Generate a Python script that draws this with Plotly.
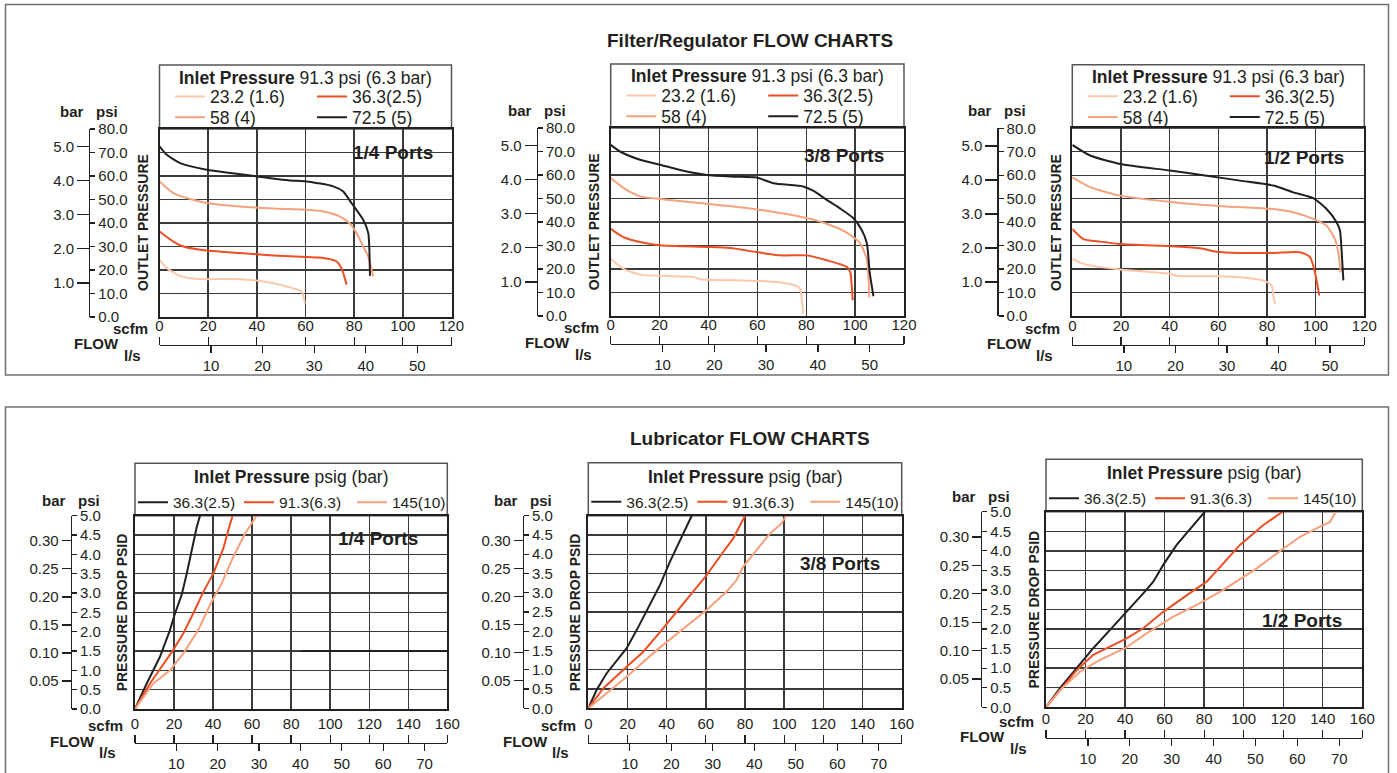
import plotly.graph_objects as go

W, H = 1397, 773
def px(x): return x / W
def py(y): return 1 - y / H

FONT = "Liberation Sans, Arial, Helvetica, sans-serif"
INK = "#231f20"
GRID = "#3a3a3a"
BOXC = "#707070"

# ---------------- DATA ----------------
FR_NAMES = ["23.2 (1.6)", "36.3(2.5)", "58 (4)", "72.5 (5)"]
FR_COLORS = ["#fcc8ac", "#ec4f25", "#f5a27e", "#231f20"]
LUB_NAMES = ["36.3(2.5)", "91.3(6.3)", "145(10)"]
LUB_COLORS = ["#231f20", "#ec4f25", "#f6a07c"]

# Filter/Regulator 1/4 Ports (scfm, psi)
fr14_232_x = [0, 3, 8.5, 12.6, 19.4, 33, 46.8, 55, 58.4, 59.8]
fr14_232_y = [24.3, 20.8, 17.5, 16.5, 16.1, 16.1, 14.4, 12.2, 10.8, 5.8]
fr14_363_x = [0, 5.7, 9.8, 19.4, 33, 46.8, 60.5, 66, 72.8, 74.8, 76.9]
fr14_363_y = [36.4, 32.1, 30, 28.3, 27.2, 26.2, 25.5, 25.3, 23.6, 20.8, 13.7]
fr14_58_x = [0, 5.7, 12.6, 19.4, 33, 46.8, 60.5, 67.3, 74, 78, 81, 83.7, 85.8, 87.8]
fr14_58_y = [57.7, 52.7, 50.2, 48.5, 47, 46.2, 45.6, 44.9, 42.8, 40, 35.7, 30, 25.7, 17.2]
fr14_725_x = [0, 3, 8.5, 19.4, 30, 40, 53.6, 60.5, 71.4, 75.5, 78.9, 83.7, 85.8, 86.2, 86.5]
fr14_725_y = [72.6, 69, 65.5, 62.7, 61.2, 59.8, 58.1, 57.7, 55.6, 53.4, 48.5, 41.4, 35.7, 30, 17.5]

# Filter/Regulator 3/8 Ports
fr38_232_x = [0, 5.2, 12, 22.9, 33.8, 36.6, 50.2, 63.8, 74.7, 77.5, 78.1, 78.8]
fr38_232_y = [24.4, 20.1, 17.6, 17, 16.6, 15.6, 15.2, 14.8, 13.3, 11.6, 7.4, 1]
fr38_363_x = [0, 5.2, 12, 20.2, 39.3, 48.9, 59.7, 69.3, 80.2, 88.4, 96.6, 98, 98.6, 99]
fr38_363_y = [37.1, 33.6, 31.5, 30.1, 29.4, 28.9, 27.2, 25.8, 25.8, 23.7, 20.9, 18.7, 13.1, 6.7]
fr38_58_x = [0, 5.2, 12, 20.2, 39.3, 55.6, 69.3, 83, 91, 96.6, 102, 104.8, 105.8]
fr38_58_y = [58.7, 54.5, 50.9, 49.8, 47.8, 46, 43.8, 41, 38.2, 35.5, 31, 24, 8]
fr38_725_x = [0, 3.8, 12, 20.2, 28.4, 39.3, 50.2, 59.7, 66.6, 78.8, 83, 88.4, 93.8, 99.3, 102.7, 104.8, 106, 107.5]
fr38_725_y = [72.8, 70, 66.5, 64.4, 62.1, 60, 59.3, 58.9, 56.5, 55.1, 53.2, 49.4, 45.8, 41.6, 36.6, 31, 18.2, 8.4]

# Filter/Regulator 1/2 Ports
fr12_232_x = [0, 4.5, 19.6, 40.1, 42.9, 59.3, 68.9, 78.5, 81.9, 82.6, 83.3]
fr12_232_y = [24.4, 22.2, 19.8, 18, 17.2, 16.9, 16.5, 15.1, 13, 8.7, 5.1]
fr12_363_x = [0, 4.5, 11.4, 19.6, 41.5, 52.5, 59.3, 68.9, 82.6, 93.6, 97.7, 99.7, 101.5]
fr12_363_y = [37.1, 32.8, 31.7, 30.7, 29.7, 28.9, 27.4, 26.9, 26.9, 27.2, 25.1, 18.7, 8.7]
fr12_58_x = [0, 7.3, 19.6, 41.5, 62, 82.6, 90.8, 99, 104.5, 107.9, 109.3, 110.3]
fr12_58_y = [59.1, 54.9, 51.3, 48.5, 46.8, 45.6, 44.2, 41.4, 38.5, 32.8, 27.2, 18.6]
fr12_725_x = [0, 7.3, 19.6, 40.1, 55.2, 68.9, 82.6, 90.8, 99, 104.5, 108.6, 110, 110.7, 111.4]
fr12_725_y = [72.9, 68.4, 64.8, 62, 59.8, 57.7, 55.6, 52.7, 50.2, 45.6, 40, 36.4, 27.2, 15.2]

# Lubricator 1/4 Ports (scfm, psid)
lb14_363_x = [0, 6, 12.8, 17.9, 20.5, 23.9, 26.5, 29, 31.6, 33.3]
lb14_363_y = [0, 0.66, 1.35, 2.04, 2.47, 2.95, 3.5, 4.1, 4.7, 5.0]
lb14_913_x = [0, 7.7, 19.6, 24.8, 30.7, 35, 40.1, 45.3, 47.8, 50]
lb14_913_y = [0, 0.66, 1.53, 1.96, 2.56, 3.03, 3.5, 4.16, 4.63, 5.0]
lb14_145_x = [0, 9.4, 17.9, 24.8, 32.4, 38.4, 44.4, 50.4, 56.4, 62.3]
lb14_145_y = [0, 0.66, 1.0, 1.44, 2.04, 2.69, 3.25, 3.94, 4.54, 5.0]

# Lubricator 3/8 Ports
lb38_363_x = [0, 4.3, 9.4, 19.6, 24.7, 29.8, 36.6, 41.7, 46.8, 52.8]
lb38_363_y = [0, 0.48, 0.91, 1.56, 2.03, 2.55, 3.2, 3.81, 4.37, 5.0]
lb38_913_x = [0, 7.7, 19.6, 28.1, 38.3, 46.8, 54.5, 60.4, 67.2, 74, 80]
lb38_913_y = [0, 0.52, 1.08, 1.47, 2.08, 2.6, 3.07, 3.46, 3.94, 4.41, 5.0]
lb38_145_x = [0, 19.6, 34.9, 50.2, 60.4, 70.6, 75.7, 79.1, 86, 92.8, 98.7, 100.9]
lb38_145_y = [0, 0.82, 1.51, 2.12, 2.55, 3.03, 3.33, 3.68, 4.11, 4.54, 4.8, 5.0]

# Lubricator 1/2 Ports
lb12_363_x = [0, 7.1, 15.5, 23.9, 32.4, 40.8, 49.2, 54.3, 59.3, 66.1, 74.5, 80.4]
lb12_363_y = [0, 0.49, 1.0, 1.51, 1.98, 2.44, 2.91, 3.21, 3.64, 4.15, 4.66, 5.0]
lb12_913_x = [0, 7.1, 15.5, 23.9, 32.4, 40.8, 49.2, 59.3, 76.2, 81.3, 89.7, 98.1, 110, 119.7]
lb12_913_y = [0, 0.44, 0.95, 1.34, 1.55, 1.76, 2.02, 2.44, 3.04, 3.21, 3.68, 4.15, 4.66, 5.0]
lb12_145_x = [0, 7.1, 17.2, 27.3, 40, 50.9, 64.4, 77.9, 89.7, 106.6, 120.1, 128.5, 138.6, 143.7, 146.2, 146.7]
lb12_145_y = [0, 0.44, 0.91, 1.21, 1.51, 1.89, 2.32, 2.66, 3.0, 3.55, 4.06, 4.36, 4.62, 4.74, 4.96, 5.0]

# axis tick values
FR_SCFM_TICKS = [0, 20, 40, 60, 80, 100, 120]
FR_LS_TICKS = [10, 20, 30, 40, 50]
FR_PSI_TICKS = [0, 10, 20, 30, 40, 50, 60, 70, 80]
FR_BAR_TICKS = [1.0, 2.0, 3.0, 4.0, 5.0]
LUB_SCFM_TICKS = [0, 20, 40, 60, 80, 100, 120, 140, 160]
LUB_LS_TICKS = [10, 20, 30, 40, 50, 60, 70]
LUB_PSI_TICKS = [0, 0.5, 1.0, 1.5, 2.0, 2.5, 3.0, 3.5, 4.0, 4.5, 5.0]
LUB_BAR_TICKS = [0.05, 0.10, 0.15, 0.20, 0.25, 0.30]
PSI_PER_BAR = 14.5038
SCFM_PER_LS = 2.119

# highlighted segment seen in lubricator 1/4 chart (scfm range at 1.5 psid)
lb14_mark_x = [85, 160]
lb14_mark_y = [1.5, 1.5]

fr_series = lambda a: [(FR_NAMES[i], a[2*i], a[2*i+1], FR_COLORS[i]) for i in range(4)]
lb_series = lambda a: [(LUB_NAMES[i], a[2*i], a[2*i+1], LUB_COLORS[i]) for i in range(3)]

charts = [
    dict(kind="fr", L=159.5, R=451.5, T=129, B=317, LT=65, AX=89, LY=345, port="1/4 Ports", pxy=(96, 69.8),
         series=fr_series([fr14_232_x, fr14_232_y, fr14_363_x, fr14_363_y, fr14_58_x, fr14_58_y, fr14_725_x, fr14_725_y])),
    dict(kind="fr", L=610.7, R=904, T=128, B=316, LT=64, AX=536.7, LY=344, port="3/8 Ports", pxy=(95.5, 68.5),
         series=fr_series([fr38_232_x, fr38_232_y, fr38_363_x, fr38_363_y, fr38_58_x, fr38_58_y, fr38_725_x, fr38_725_y])),
    dict(kind="fr", L=1072.3, R=1364.3, T=128.3, B=316, LT=64.7, AX=997.3, LY=345, port="1/2 Ports", pxy=(95.2, 67.7),
         series=fr_series([fr12_232_x, fr12_232_y, fr12_363_x, fr12_363_y, fr12_58_x, fr12_58_y, fr12_725_x, fr12_725_y])),
    dict(kind="lub", L=135, R=447.3, T=515.7, B=709, LT=463.3, AX=70.7, LY=742.7, port="1/4 Ports", pxy=(124.5, 4.42),
         series=lb_series([lb14_363_x, lb14_363_y, lb14_913_x, lb14_913_y, lb14_145_x, lb14_145_y])),
    dict(kind="lub", L=588.3, R=901.7, T=515.7, B=708.3, LT=462.7, AX=522.7, LY=742.7, port="3/8 Ports", pxy=(128.5, 3.77),
         series=lb_series([lb38_363_x, lb38_363_y, lb38_913_x, lb38_913_y, lb38_145_x, lb38_145_y])),
    dict(kind="lub", L=1046, R=1362.3, T=511.7, B=707.3, LT=459.3, AX=981, LY=738, port="1/2 Ports", pxy=(129.5, 2.23),
         series=lb_series([lb12_363_x, lb12_363_y, lb12_913_x, lb12_913_y, lb12_145_x, lb12_145_y])),
]

fig = go.Figure()
layout = dict(width=W, height=H, autosize=False, margin=dict(l=0, r=0, t=0, b=0),
              template="none", paper_bgcolor="white", plot_bgcolor="rgba(0,0,0,0)",
              font=dict(family=FONT, color=INK, size=15), showlegend=True, hovermode=False)
annotations = []
shapes = []

def axkey(prefix, n):
    return f"{prefix}axis" if n == 1 else f"{prefix}axis{n}"
def axref(prefix, n):
    return prefix if n == 1 else f"{prefix}{n}"

tickfont = dict(family=FONT, size=15, color=INK)
legend_n = 0

def new_legend(xp, yp, size):
    global legend_n
    legend_n += 1
    key = "legend" if legend_n == 1 else f"legend{legend_n}"
    layout[key] = dict(x=px(xp), y=py(yp), xanchor="left", yanchor="middle", bgcolor="rgba(0,0,0,0)",
                       borderwidth=0, font=dict(family=FONT, size=size, color=INK), orientation="v",
                       itemclick=False, itemdoubleclick=False)
    return key

for k, c in enumerate(charts):
    fr = c["kind"] == "fr"
    xmax = 120 if fr else 160
    ymax = 80 if fr else 5
    L, R, T, B, LT, AX, LY = c["L"], c["R"], c["T"], c["B"], c["LT"], c["AX"], c["LY"]
    nx, ns, nl = 3 * k + 1, 3 * k + 2, 3 * k + 3
    ny, npsi, nbar = 3 * k + 1, 3 * k + 2, 3 * k + 3
    xr, yr = axref("x", nx), axref("y", ny)

    layout[axkey("x", nx)] = dict(domain=[px(L), px(R)], anchor=yr, range=[0, xmax], tick0=0, dtick=20,
                                  showgrid=True, gridcolor=GRID, gridwidth=1.4, showline=True, mirror=True,
                                  linecolor=INK, linewidth=2, ticks="", showticklabels=False, zeroline=False,
                                  fixedrange=True)
    layout[axkey("y", ny)] = dict(domain=[py(B), py(T)], anchor=xr, range=[0, ymax], tick0=0,
                                  dtick=10 if fr else 0.5, showgrid=True, gridcolor=GRID, gridwidth=1.4,
                                  showline=True, mirror=True, linecolor=INK, linewidth=2, ticks="",
                                  showticklabels=False, zeroline=False, fixedrange=True)
    scfm_ticks = FR_SCFM_TICKS if fr else LUB_SCFM_TICKS
    layout[axkey("x", ns)] = dict(overlaying=xr, anchor="free", position=py(LY), side="top", range=[0, xmax],
                                  tickmode="array", tickvals=scfm_ticks, ticktext=[str(v) for v in scfm_ticks],
                                  ticks="outside", ticklen=8, tickwidth=1.3, tickcolor=INK, showline=False,
                                  showgrid=False, zeroline=False, tickfont=tickfont, fixedrange=True)
    ls_ticks = FR_LS_TICKS if fr else LUB_LS_TICKS
    layout[axkey("x", nl)] = dict(overlaying=xr, anchor="free", position=py(LY), side="bottom",
                                  range=[0, xmax / SCFM_PER_LS], tickmode="array", tickvals=ls_ticks,
                                  ticktext=[str(v) for v in ls_ticks], ticks="outside", ticklen=7, tickwidth=1.3,
                                  tickcolor=INK, showline=True, linecolor=INK, linewidth=1.3, showgrid=False,
                                  zeroline=False, tickfont=tickfont, fixedrange=True)
    psi_ticks = FR_PSI_TICKS if fr else LUB_PSI_TICKS
    layout[axkey("y", npsi)] = dict(overlaying=yr, anchor="free", position=px(AX), side="right", range=[0, ymax],
                                    tickmode="array", tickvals=psi_ticks, ticktext=[f"{v:.1f}" for v in psi_ticks],
                                    ticks="outside", ticklen=5, tickwidth=1.3, tickcolor=INK, showline=True,
                                    linecolor=INK, linewidth=1.3, showgrid=False, zeroline=False,
                                    tickfont=tickfont, fixedrange=True)
    bar_ticks = FR_BAR_TICKS if fr else LUB_BAR_TICKS
    layout[axkey("y", nbar)] = dict(overlaying=yr, anchor="free", position=px(AX), side="left", range=[0, ymax],
                                    tickmode="array", tickvals=[b * PSI_PER_BAR for b in bar_ticks],
                                    ticktext=[(f"{b:.1f}" if fr else f"{b:.2f}") for b in bar_ticks],
                                    ticks="outside", ticklen=12 if fr else 9, tickwidth=1.3, tickcolor=INK,
                                    showline=False, showgrid=False, zeroline=False, tickfont=tickfont,
                                    fixedrange=True)

    # empty carrier traces so that the secondary (unit) axes get drawn
    for xa_, ya_ in [(axref("x", ns), yr), (axref("x", nl), yr), (xr, axref("y", npsi)), (xr, axref("y", nbar))]:
        fig.add_trace(go.Scatter(x=[None], y=[None], mode="lines", xaxis=xa_, yaxis=ya_,
                                 showlegend=False, hoverinfo="skip"))

    # legend box
    shapes.append(dict(type="rect", xref="paper", yref="paper", x0=px(L), x1=px(R), y0=py(T), y1=py(LT),
                       line=dict(color="#555555", width=1.5), layer="below"))

    # traces + per-entry legends
    for i, (name, xs, ys, col) in enumerate(c["series"]):
        if fr:
            col_x = L + (10.5 if i in (0, 2) else 152.5)
            row_y = LT + (31.7 if i in (0, 1) else 52.3)
            lg = new_legend(col_x, row_y, 17.5)
        else:
            col_x = L + [-2, 104, 217][i]
            lg = new_legend(col_x, LT + 39.5, 15.5)
        fig.add_trace(go.Scatter(x=xs, y=ys, mode="lines", name=name, legend=lg,
                                 line=dict(color=col, width=2, shape="spline" if fr else "linear",
                                           smoothing=0.6 if fr else 0),
                                 xaxis=xr, yaxis=yr, hoverinfo="skip"))

    # legend title
    ttl = "<b>Inlet Pressure</b> 91.3 psi (6.3 bar)" if fr else "<b>Inlet Pressure</b> psig (bar)"
    annotations.append(dict(text=ttl, xref="paper", yref="paper", x=px((L + R) / 2), y=py(LT + (12.5 if fr else 14)),
                            xanchor="center", yanchor="middle", showarrow=False,
                            font=dict(family=FONT, size=17.5, color=INK)))
    # ports label
    annotations.append(dict(text=f"<b>{c['port']}</b>", xref=xr, yref=yr, x=c["pxy"][0], y=c["pxy"][1],
                            xanchor="center", yanchor="middle", showarrow=False,
                            font=dict(family=FONT, size=19, color=INK)))
    # axis captions
    lblfont = dict(family=FONT, size=15, color=INK)
    top_lbl = T - 18 if fr else T - 15
    annotations += [
        dict(text="<b>bar</b>", xref="paper", yref="paper", x=px(AX - 17), y=py(top_lbl), showarrow=False,
             xanchor="center", yanchor="middle", font=lblfont),
        dict(text="<b>psi</b>", xref="paper", yref="paper", x=px(AX + 18), y=py(top_lbl), showarrow=False,
             xanchor="center", yanchor="middle", font=lblfont),
        dict(text="<b>OUTLET PRESSURE</b>" if fr else "<b>PRESSURE DROP PSID</b>", xref="paper", yref="paper",
             x=px(L - (16.5 if fr else 13)), y=py((T + B) / 2), textangle=-90, showarrow=False,
             xanchor="center", yanchor="middle", font=dict(family=FONT, size=14, color=INK)),
        dict(text="<b>scfm</b>", xref="paper", yref="paper", x=px(L - 29.5), y=py(LY - 17), showarrow=False,
             xanchor="center", yanchor="middle", font=lblfont),
        dict(text="<b>FLOW</b>", xref="paper", yref="paper", x=px(L - 63), y=py(LY - 1.5), showarrow=False,
             xanchor="center", yanchor="middle", font=lblfont),
        dict(text="<b>l/s</b>", xref="paper", yref="paper", x=px(L - 27.5), y=py(LY + 10), showarrow=False,
             xanchor="center", yanchor="middle", font=lblfont),
    ]
    if k == 3:
        shapes.append(dict(type="line", xref=xr, yref=yr, x0=lb14_mark_x[0], x1=lb14_mark_x[1],
                           y0=lb14_mark_y[0], y1=lb14_mark_y[1], line=dict(color=INK, width=2)))

# outer boxes and section titles
shapes.append(dict(type="rect", xref="paper", yref="paper", x0=px(5.5), x1=px(1388.5), y0=py(375), y1=py(4.5),
                   line=dict(color=BOXC, width=1.5), layer="below"))
shapes.append(dict(type="rect", xref="paper", yref="paper", x0=px(5.5), x1=px(1388.5), y0=py(790), y1=py(407),
                   line=dict(color=BOXC, width=1.5), layer="below"))
annotations.append(dict(text="<b>Filter/Regulator FLOW CHARTS</b>", xref="paper", yref="paper", x=px(750),
                        y=py(40), showarrow=False, xanchor="center", yanchor="middle",
                        font=dict(family=FONT, size=19, color=INK)))
annotations.append(dict(text="<b>Lubricator FLOW CHARTS</b>", xref="paper", yref="paper", x=px(750),
                        y=py(438), showarrow=False, xanchor="center", yanchor="middle",
                        font=dict(family=FONT, size=19, color=INK)))

layout["annotations"] = annotations
layout["shapes"] = shapes
fig.update_layout(**layout)
fig.write_html("out.html", config={"displayModeBar": False, "staticPlot": True},
               post_script="document.body.style.margin='0px';document.body.style.overflow='hidden';")
